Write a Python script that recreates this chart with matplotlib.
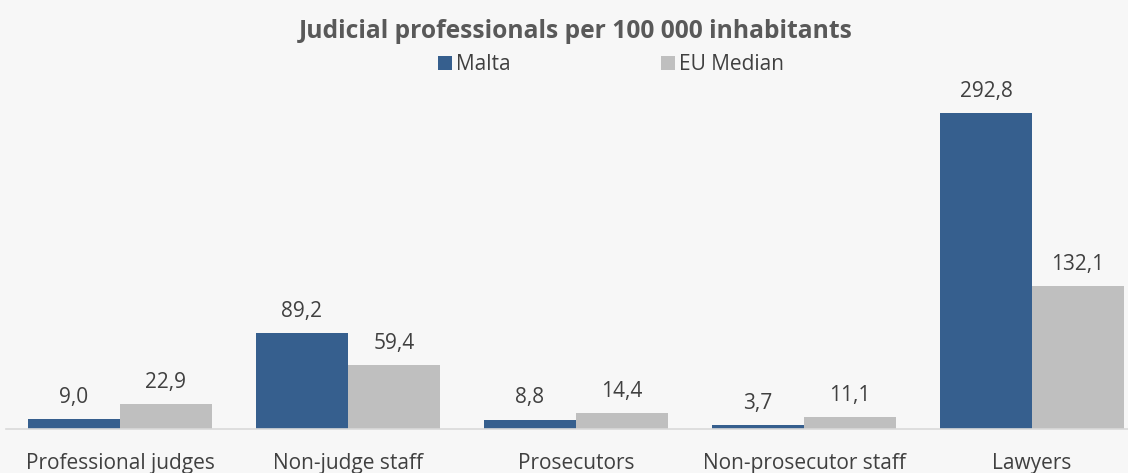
import numpy as np
import matplotlib.pyplot as plt

categories = ['Professional judges', 'Non-judge staff', 'Prosecutors',
              'Non-prosecutor staff', 'Lawyers']
malta = [9.0, 89.2, 8.8, 3.7, 292.8]
eu_median = [22.9, 59.4, 14.4, 11.1, 132.1]
series_names = ['Malta', 'EU Median']

plt.rcParams['font.family'] = ['Open Sans', 'DejaVu Sans']

W, H = 1128, 473
fig = plt.figure(figsize=(W / 100, H / 100), dpi=100, facecolor='#F7F7F7')
ax = fig.add_axes([6 / W, (H - 429) / H, (W - 6) / W, (429 - 70) / H])
ax.set_facecolor('#F7F7F7')

x = np.arange(len(categories))
bw = 92 / 228
b1 = ax.bar(x - bw / 2, malta, bw, color='#365F8E', label=series_names[0])
b2 = ax.bar(x + bw / 2, eu_median, bw, color='#BFBFBF', label=series_names[1])

px_per_unit = (429 - 113) / 292.8
ax.set_ylim(0, (429 - 70) / px_per_unit)
ax.set_xlim(-0.5, -0.5 + (W - 6) / 228)

for bars, vals in [(b1, malta), (b2, eu_median)]:
    for rect, v in zip(bars, vals):
        ax.annotate(f'{v:.1f}'.replace('.', ','),
                    (rect.get_x() + rect.get_width() / 2, rect.get_height()),
                    xytext=(0, 8), textcoords='offset points',
                    ha='center', va='bottom', fontsize=15, color='#404040')

ax.set_xticks(x)
ax.set_xticklabels(categories, fontsize=15, color='#404040')
ax.tick_params(axis='x', length=0, pad=17)
ax.set_yticks([])
for s in ['top', 'right', 'left']:
    ax.spines[s].set_visible(False)
ax.spines['bottom'].set_color('#D9D9D9')
ax.spines['bottom'].set_linewidth(1.2)

fig.text(576 / W, 1 - 32 / H, 'Judicial professionals per 100 000 inhabitants',
         ha='center', va='center', fontsize=17.7, fontweight='bold', color='#595959')

leg = fig.legend(loc='center', bbox_to_anchor=(611 / W, 1 - 65 / H), ncol=2,
                 frameon=False, fontsize=15, handlelength=0.67, handleheight=0.67,
                 handletextpad=0.2, columnspacing=7.25, borderpad=0)
for t in leg.get_texts():
    t.set_color('#404040')

fig.savefig('out.png', dpi=100, facecolor=fig.get_facecolor())
